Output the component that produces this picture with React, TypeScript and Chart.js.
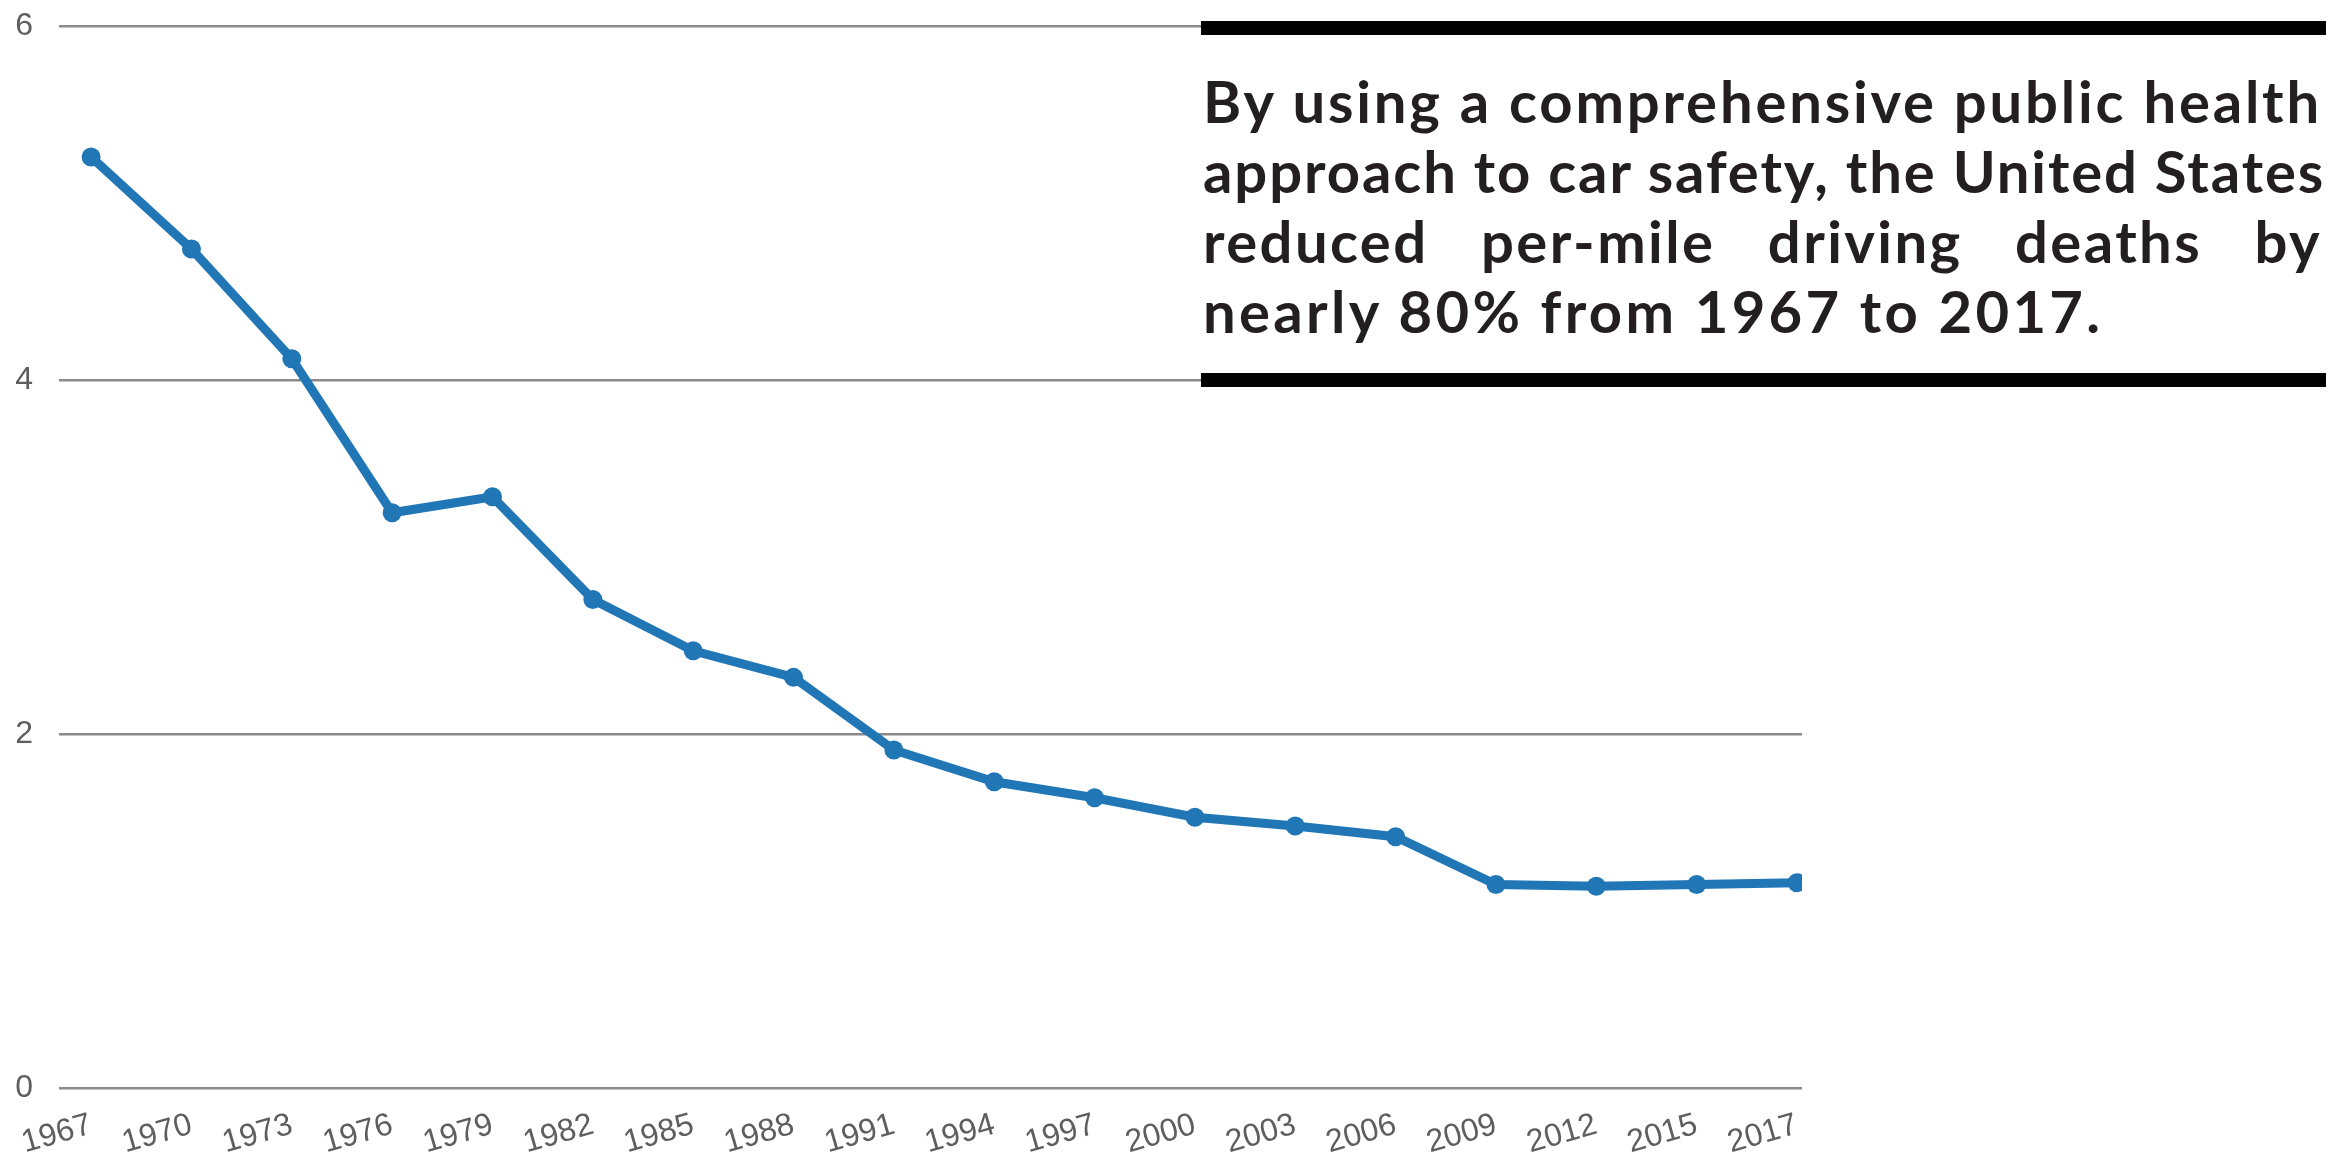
import React, { useEffect, useRef } from "react";
import { Chart, registerables } from "chart.js";

Chart.register(...registerables);

const years = ["1967","1970","1973","1976","1979","1982","1985","1988","1991","1994","1997","2000","2003","2006","2009","2012","2015","2017"];
const deathsPerMile = [5.26, 4.74, 4.12, 3.25, 3.34, 2.76, 2.47, 2.32, 1.91, 1.73, 1.64, 1.53, 1.48, 1.42, 1.15, 1.14, 1.15, 1.16];
const yTicks = [0, 2, 4, 6];
const headlineLines = [
  "By using a comprehensive public health",
  "approach to car safety, the United States",
  "reduced per-mile driving deaths by",
  "nearly 80% from 1967 to 2017.",
];

const W = 2341;
const H = 1152;
const LINE_COLOR = "#2176b6";
const TICK_FONT = "'Liberation Sans', Arial, sans-serif";
const LINE_SPACING_PX = [2.8, 1.9, 2.4, 3.3];

export default function App() {
  const canvasRef = useRef<HTMLCanvasElement | null>(null);

  useEffect(() => {
    const canvas = canvasRef.current;
    if (!canvas) return;
    const chart = new Chart(canvas, {
      type: "line",
      data: {
        datasets: [
          {
            data: deathsPerMile.map((v, i) => ({ x: i, y: v })),
            borderColor: LINE_COLOR,
            backgroundColor: LINE_COLOR,
            borderWidth: 9,
            pointRadius: 9.5,
            pointBorderWidth: 0,
            pointBackgroundColor: LINE_COLOR,
            tension: 0,
            fill: false,
          },
        ],
      },
      options: {
        animation: false,
        responsive: false,
        devicePixelRatio: 1,
        layout: { padding: { top: 26, right: 539, bottom: 0, left: 0 } },
        plugins: { legend: { display: false }, tooltip: { enabled: false } },
        scales: {
          x: {
            type: "linear",
            min: -0.32,
            max: 17.05,
            afterBuildTicks: (scale: any) => {
              scale.ticks = years.map((_, i) => ({ value: i }));
            },
            afterFit: (scale: any) => {
              scale.height = 64;
              scale.paddingLeft = 0;
              scale.paddingRight = 0;
            },
            ticks: {
              autoSkip: false,
              minRotation: 16,
              maxRotation: 16,
              padding: 10,
              color: "#5e5e5e",
              font: { family: TICK_FONT, size: 32 },
              callback: (value: any) => years[value as number] ?? "",
            },
            grid: { display: false },
            border: { display: false },
          },
          y: {
            type: "linear",
            min: 0,
            max: 6,
            afterBuildTicks: (scale: any) => {
              scale.ticks = yTicks.map((v) => ({ value: v }));
            },
            afterFit: (scale: any) => {
              scale.width = 59;
              scale.paddingTop = 0;
              scale.paddingBottom = 0;
            },
            ticks: {
              padding: 26,
              color: "#5e5e5e",
              font: { family: TICK_FONT, size: 32 },
            },
            grid: { color: "#8a8a8a", lineWidth: 2.5, drawTicks: false },
            border: { display: false },
          },
        },
      },
    });
    return () => chart.destroy();
  }, []);

  return (
    <div style={{ position: "fixed", left: 0, top: 0, width: W, height: H, background: "#fff", overflow: "hidden" }}>
      <canvas ref={canvasRef} width={W} height={H} style={{ position: "absolute", left: 0, top: 0, width: W, height: H }} />
      <div style={{ position: "absolute", left: 1201, top: 21, width: 1125, height: 14, background: "#000" }} />
      <div style={{ position: "absolute", left: 1201, top: 373, width: 1125, height: 14, background: "#000" }} />
      <div
        style={{
          position: "absolute",
          left: 1203,
          top: 66,
          width: 1119,
          fontFamily: "Lato, 'Open Sans', sans-serif",
          fontWeight: 700,
          fontSize: 58,
          lineHeight: "70px",
          color: "#231f20",
        }}
      >
        {headlineLines.map((t, i) => (
          <div
            key={i}
            style={{
              whiteSpace: "nowrap",
              letterSpacing: `${LINE_SPACING_PX[i]}px`,
              textAlign: i < 3 ? "justify" : "left",
              textAlignLast: i < 3 ? "justify" : "left",
            }}
          >
            {t}
          </div>
        ))}
      </div>
    </div>
  );
}
